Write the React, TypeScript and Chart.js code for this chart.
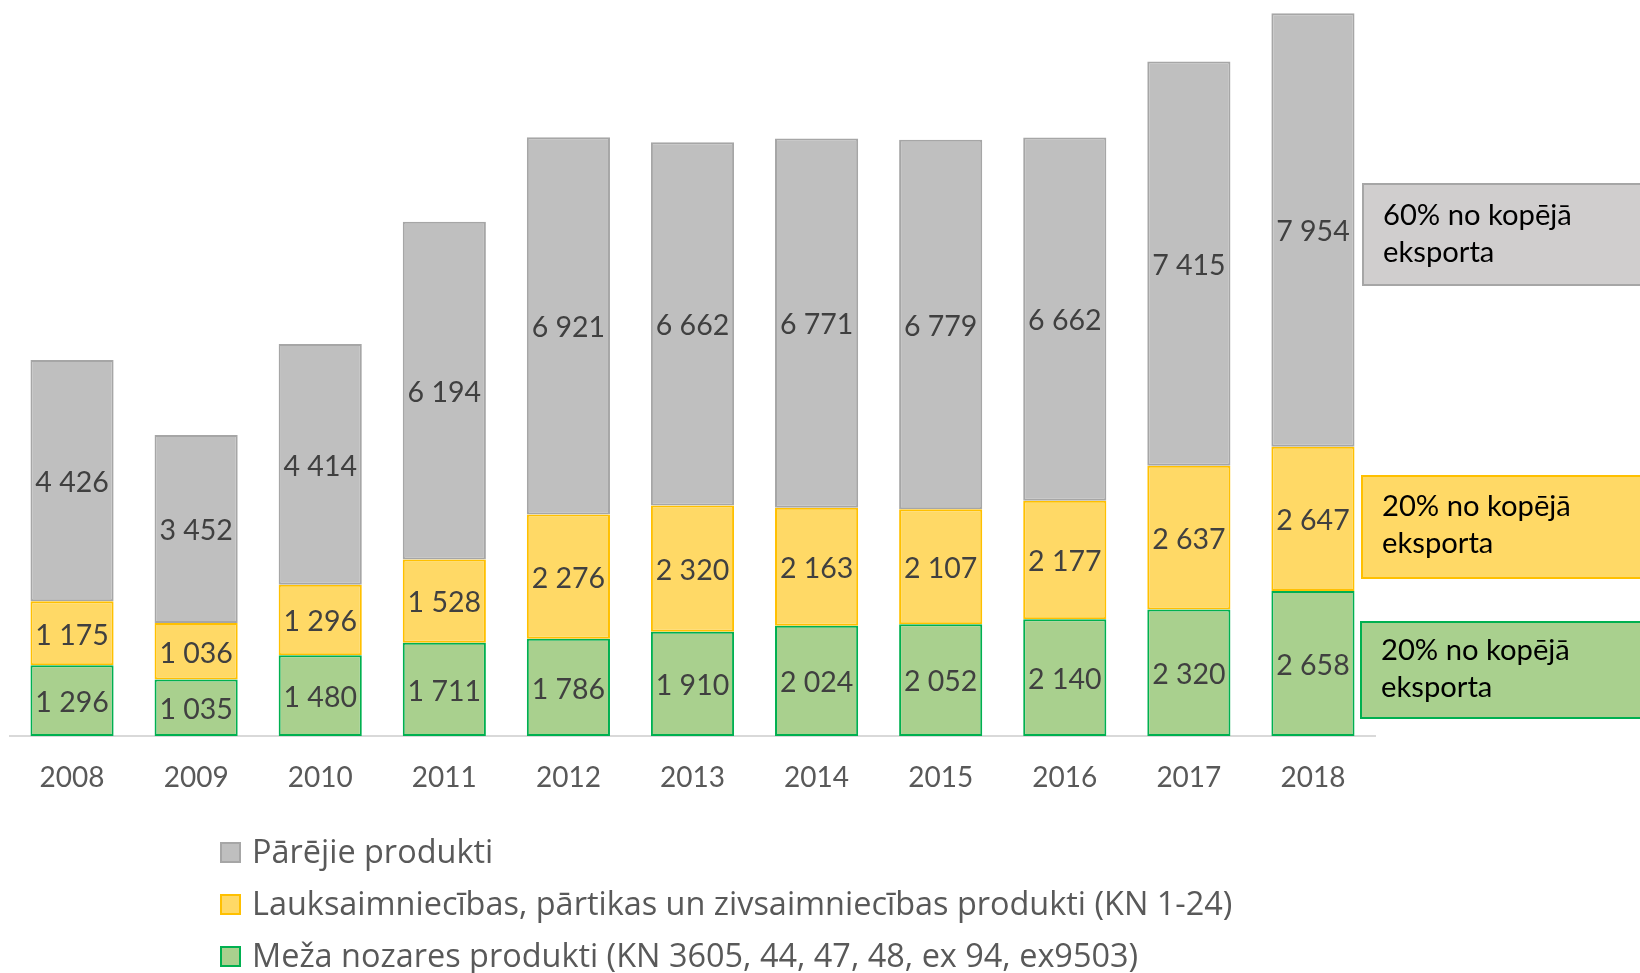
import React, { useEffect, useRef } from "react";
import { Chart, registerables } from "chart.js";

Chart.register(...registerables);

const years = ["2008", "2009", "2010", "2011", "2012", "2013", "2014", "2015", "2016", "2017", "2018"];
const forestValues = [1296, 1035, 1480, 1711, 1786, 1910, 2024, 2052, 2140, 2320, 2658];
const agriValues = [1175, 1036, 1296, 1528, 2276, 2320, 2163, 2107, 2177, 2637, 2647];
const otherValues = [4426, 3452, 4414, 6194, 6921, 6662, 6771, 6779, 6662, 7415, 7954];

const seriesNames = [
  "Meža nozares produkti (KN 3605, 44, 47, 48, ex 94, ex9503)",
  "Lauksaimniecības, pārtikas un zivsaimniecības produkti (KN 1-24)",
  "Pārējie produkti",
];
const fillColors = ["#a9d08e", "#ffd966", "#bfbfbf"];
const borderColors = ["#00b050", "#ffc000", "#a6a6a6"];

const boxLines = [
  ["60% no kopējā", "eksporta"],
  ["20% no kopējā", "eksporta"],
  ["20% no kopējā", "eksporta"],
];
const boxFills = ["#d0cece", "#ffd966", "#a9d08e"];
const boxBorders = ["#a6a6a6", "#ffc000", "#00b050"];

const FONT = "Lato, 'Noto Sans', sans-serif";
const LEGEND_FONT = "'Open Sans', Lato, sans-serif";
const FS = 28.5;

function fmt(v: number): string {
  return String(v).replace(/\B(?=(\d{3})+(?!\d))/g, " ");
}

function fitSize(ctx: any, family: string, text: string, target: number): number {
  ctx.font = `100px ${family}`;
  const w = ctx.measureText(text).width;
  return (100 * target) / w;
}

const segLabels = {
  id: "segLabels",
  afterDatasetsDraw(chart: any) {
    const ctx = chart.ctx;
    ctx.save();
    ctx.font = `${FS}px ${FONT}`;
    ctx.fillStyle = "#404040";
    ctx.textAlign = "center";
    ctx.textBaseline = "middle";
    chart.data.datasets.forEach((ds: any, i: number) => {
      const meta = chart.getDatasetMeta(i);
      meta.data.forEach((el: any, j: number) => {
        const p = el.getProps(["x", "y", "base"], true);
        ctx.fillText(fmt(ds.data[j]), p.x, (p.y + p.base) / 2 + 2);
      });
    });
    ctx.restore();
  },
};

const customLegend = {
  id: "customLegend",
  afterDraw(chart: any) {
    const ctx = chart.ctx;
    ctx.save();
    const size = fitSize(ctx, LEGEND_FONT, seriesNames[1], 981);
    ctx.font = `${size}px ${LEGEND_FONT}`;
    ctx.textBaseline = "alphabetic";
    ctx.textAlign = "left";
    const order = [2, 1, 0];
    const baseY = [863, 915, 967];
    order.forEach((di, k) => {
      const ds = chart.data.datasets[di];
      const by = baseY[k];
      ctx.fillStyle = ds.backgroundColor;
      ctx.fillRect(220, by - 21, 21, 21);
      ctx.strokeStyle = ds.borderColor;
      ctx.lineWidth = 2;
      ctx.strokeRect(221, by - 20, 19, 19);
      ctx.fillStyle = "#595959";
      ctx.fillText(ds.label, 252, by);
    });
    ctx.restore();
  },
};

const sideBoxes = {
  id: "sideBoxes",
  afterDraw(chart: any) {
    const ctx = chart.ctx;
    ctx.save();
    const size = fitSize(ctx, FONT, boxLines[0][0], 189);
    const boxes = [
      { x: 1362, y: 183, h: 103, tx: 1383, b1: 225, b2: 262 },
      { x: 1361, y: 475, h: 104, tx: 1382, b1: 516, b2: 553 },
      { x: 1360, y: 621, h: 98, tx: 1381, b1: 660, b2: 697 },
    ];
    boxes.forEach((b, i) => {
      ctx.fillStyle = boxFills[i];
      ctx.fillRect(b.x, b.y, 300, b.h);
      ctx.strokeStyle = boxBorders[i];
      ctx.lineWidth = 2;
      ctx.strokeRect(b.x + 1, b.y + 1, 300, b.h - 2);
      ctx.fillStyle = "#000000";
      ctx.font = `${size}px ${FONT}`;
      ctx.textAlign = "left";
      ctx.textBaseline = "alphabetic";
      ctx.fillText(boxLines[i][0], b.tx, b.b1);
      ctx.fillText(boxLines[i][1], b.tx, b.b2);
    });
    ctx.restore();
  },
};

export default function App() {
  const ref = useRef<HTMLCanvasElement | null>(null);
  useEffect(() => {
    if (!ref.current) return;
    const seriesValues = [forestValues, agriValues, otherValues];
    const chart = new Chart(ref.current, {
      type: "bar",
      data: {
        labels: years,
        datasets: seriesValues.map((vals, i) => ({
          label: seriesNames[i],
          data: vals,
          backgroundColor: fillColors[i],
          borderColor: borderColors[i],
          borderWidth: 2,
          borderSkipped: false,
          categoryPercentage: 1,
          barPercentage: 0.67,
        })),
      },
      options: {
        responsive: false,
        animation: false,
        layout: { padding: { left: 10, right: 265, top: 0, bottom: 0 } },
        plugins: {
          legend: { display: false },
          tooltip: { enabled: false },
        },
        scales: {
          x: {
            stacked: true,
            grid: { display: false, drawTicks: false },
            border: { display: true, color: "#d9d9d9", width: 2 },
            ticks: {
              color: "#595959",
              font: { family: FONT, size: 28 },
              padding: 25,
            },
            afterFit: (s: any) => {
              s.height = 237;
            },
          },
          y: { stacked: true, display: false, min: 0, max: 13500 },
        },
      },
      plugins: [segLabels, customLegend, sideBoxes],
    } as any);
    return () => chart.destroy();
  }, []);
  return (
    <div style={{ position: "absolute", left: 0, top: 0, width: 1640, height: 973, background: "#fff" }}>
      <canvas ref={ref} width={1640} height={973} style={{ display: "block" }} />
    </div>
  );
}
